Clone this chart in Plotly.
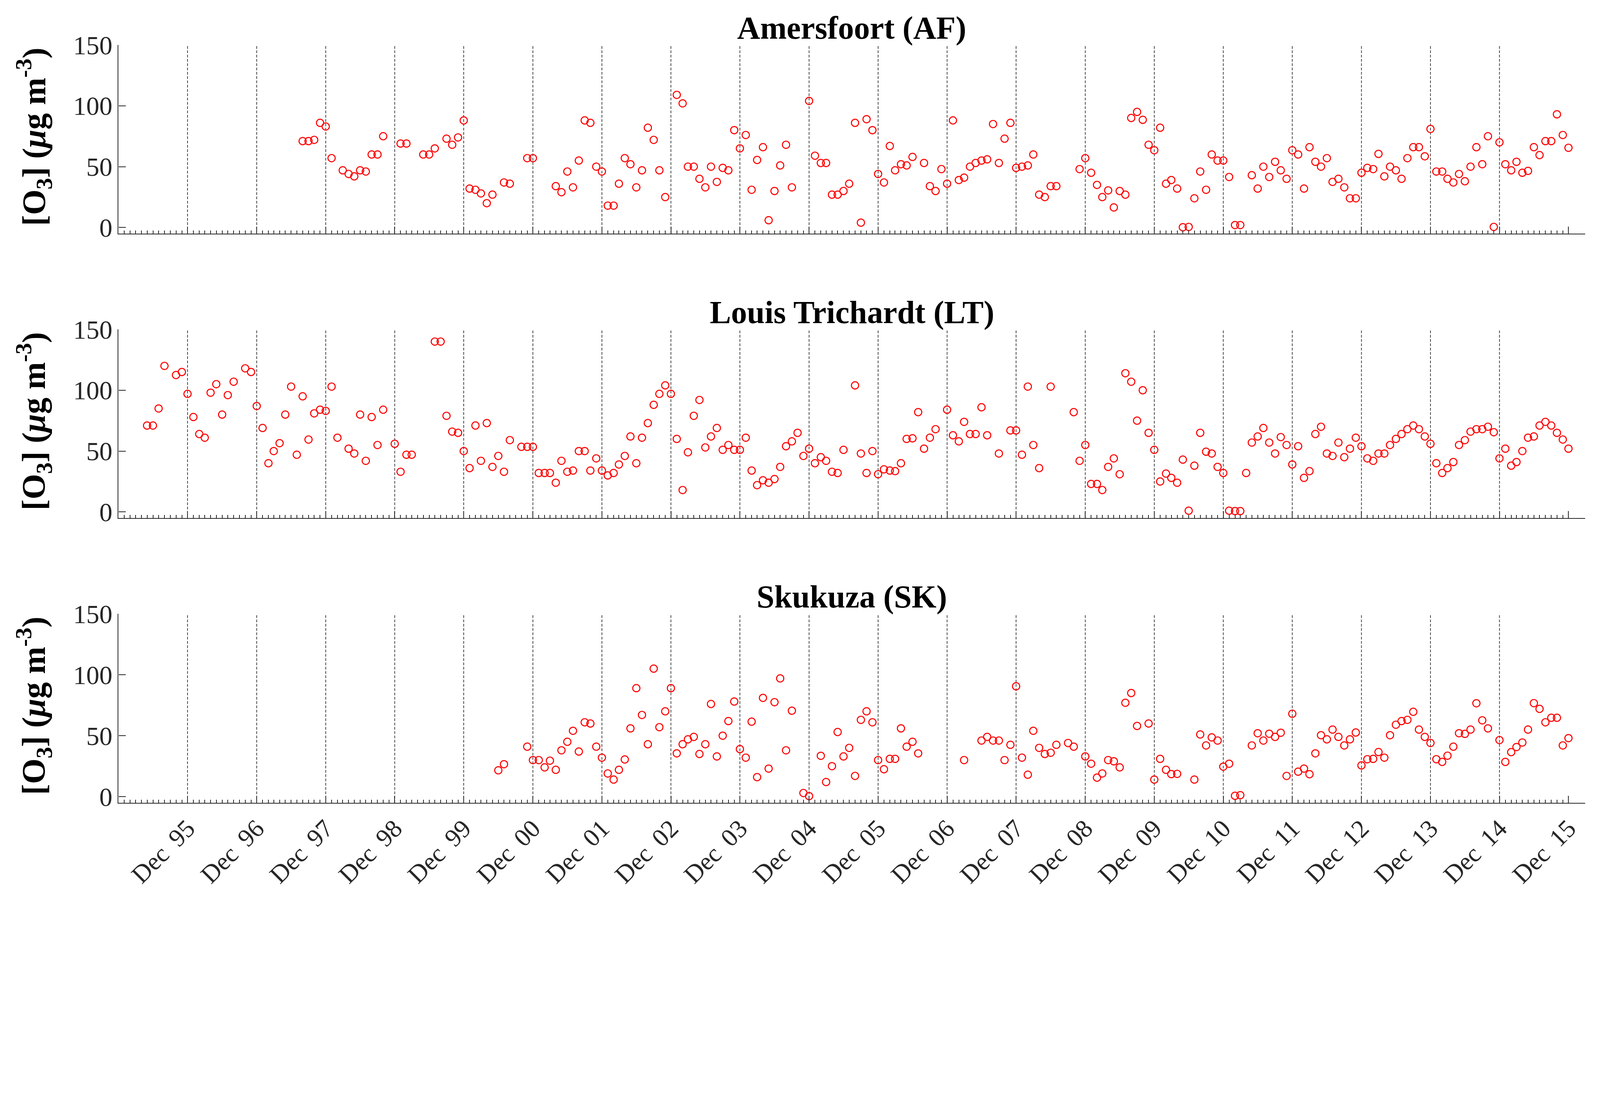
import pandas as pd
import plotly.graph_objects as go
from plotly.subplots import make_subplots

# Monthly mean surface O3 (ug m-3); None = month without data
stations = ["Amersfoort (AF)", "Louis Trichardt (LT)", "Skukuza (SK)"]

af_start = "1997-08-01"
af_o3 = [
    71, 71, 72, 86, 83,                                        # 1997 Aug-Dec
    57, None, 47, 44, 42, 47, 46, 60, 60, 75, None, None,      # 1998
    69, 69, None, None, 60, 60, 65, None, 73, 68, 74, 88,      # 1999
    32, 31, 28, 20, 27, None, 37, 36, None, None, 57, 57,      # 2000
    None, None, None, 34, 29, 46, 33, 55, 88, 86, 50, 46,      # 2001
    18, 18, 36, 57, 52, 33, 47, 82, 72, 47, 25, None,          # 2002
    109, 102, 50, 50, 40, 33, 50, 37.5, 49, 47, 80, 65,        # 2003
    76, 31, 55.5, 66, 6, 30, 51, 68, 33, None, None, 104,      # 2004
    59, 53, 53, 27, 27, 30, 36, 86, 4, 89, 80, 44,             # 2005
    37, 67, 47, 52, 51, 58, None, 53, 34, 30, 48, 36,          # 2006
    88, 39, 41, 50, 53, 55, 56, 85, 53, 73, 86, 49,            # 2007
    50, 51, 60, 27, 25, 34, 34, None, None, None, 48, 57,      # 2008
    45, 35, 25, 30.5, 16.5, 30, 27, 90, 95, 88.5, 68, 63.5,    # 2009
    82, 36, 39, 32, 0.2, 0.5, 24, 46, 31, 60, 55, 55,          # 2010
    41.5, 2, 2, None, 43, 32, 50, 41.5, 54, 47, 40, 63.5,      # 2011
    60, 32, 66, 54, 50, 57, 37.5, 40, 33, 24, 24, 45,          # 2012
    49, 48, 60.5, 42, 50, 47, 40, 57, 66, 66, 58.5, 81,        # 2013
    46, 46, 40, 37, 44, 38, 50, 66, 52, 75, 0.5, 70,           # 2014
    52, 47, 54, 45, 46.5, 66, 59.5, 71, 71, 93, 76, 65.5,      # 2015
]

lt_start = "1995-05-01"
lt_o3 = [
    71, 71, 85, 120, None, 112.5, 115, 97,                     # 1995 May-Dec
    78, 64, 61, 98, 105, 80, 96, 107, None, 118, 115, 87,      # 1996
    69, 40, 50, 56.5, 80, 103, 47, 95, 59.5, 81, 84, 83,       # 1997
    103, 61, None, 52, 48, 80, 42, 78, 55, 84, None, 56,       # 1998
    33, 47, 47, None, None, None, 140, 140, 79, 66, 65, 50,    # 1999
    36, 71, 42, 73, 37, 46, 33, 59, None, 53.5, 53.5, 53.5,    # 2000
    32, 32, 32, 24, 42, 33, 34, 50, 50, 34, 44, 34,            # 2001
    30, 32, 39, 46, 62, 40, 61, 73, 88, 97, 104, 97,           # 2002
    60, 18, 49, 79, 92, 53, 62, 69, 51, 55, 51, 51,            # 2003
    61, 34, 22, 26, 24, 27, 37, 54, 58, 65, 46, 52,            # 2004
    40, 45, 42, 33, 32, 51, None, 104, 48, 32, 50, 31,         # 2005
    35, 34, 33.5, 40, 60, 60.5, 82, 52, 61, 68, None, 84,      # 2006
    63, 58, 74, 64, 64, 86, 63, None, 48, None, 67, 67,        # 2007
    47, 103, 55, 36, None, 103, None, None, None, 82, 42, 55,  # 2008
    23, 23, 18, 37, 44, 31, 114, 107, 75, 100, 65, 51,         # 2009
    25, 31.5, 28, 24, 43, 1, 38, 65, 49.5, 48, 37, 32,         # 2010
    1, 0.7, 0.7, 32, 57, 62, 69, 57, 48, 61.5, 55, 39,         # 2011
    54, 28, 33.5, 64, 70, 48, 46, 57, 45, 52, 61, 54,          # 2012
    44, 42, 48, 48, 55, 60, 64, 68, 71, 68, 62, 56,            # 2013
    40, 32, 36, 41, 55, 59, 66, 68, 68, 70, 65.5, 44,          # 2014
    52, 38, 41, 50, 61, 62, 71, 74, 71, 65, 59.5, 52,          # 2015
]

sk_start = "2000-06-01"
sk_o3 = [
    21.6, 26.6, None, None, None, 41, 30,                      # 2000 Jun-Dec
    30, 24, 29.5, 22, 38, 45, 54, 37, 61, 60, 41, 32,          # 2001
    19, 14, 22, 30.5, 56, 89, 67, 43, 105, 57, 70, 89,         # 2002
    35.5, 43, 47, 49, 35, 43, 76, 33, 50, 62, 78, 39,          # 2003
    32, 61.5, 16, 81, 23, 77.5, 97, 38, 70.5, None, 3, 0.4,    # 2004
    None, 33.5, 12, 25, 53, 33, 40, 17, 63, 70, 61, 30,        # 2005
    22.5, 31, 31, 56, 41, 45, 35.5, None, None, None, None, None,  # 2006
    None, None, 30, None, None, 46, 49, 46, 46, 30, 42.5, 90.5,    # 2007
    32, 18, 54, 40, 35, 36, 42.5, None, 44, 41, None, 33,      # 2008
    27, 15.6, 19, 30, 29, 24, 77, 85, 58, None, 60, 14,        # 2009
    31, 22, 18.5, 18.7, None, None, 14, 51, 42, 48.6, 46, 24.6,    # 2010
    27, 0.7, 1.2, None, 42, 52, 46, 51.6, 49, 52.4, 17, 68,    # 2011
    20.5, 23, 18.4, 35.5, 50.4, 47, 55, 49, 42, 47, 52.6, 25.6,    # 2012
    30.7, 31, 36.6, 32, 50.4, 59, 62, 63, 69.6, 55, 49, 44,    # 2013
    30.7, 28.5, 33.6, 41, 52, 51.5, 55, 76.6, 62.6, 56, None, 46.4,  # 2014
    28.5, 36.5, 40.7, 44.4, 55, 76.7, 72, 61, 64.7, 64.7, 42, 48,    # 2015
]

series = [(af_start, af_o3), (lt_start, lt_o3), (sk_start, sk_o3)]

# axis ticks: a labelled tick every December, small ticks every other month
dec_years = list(range(1995, 2016))
dec_dates = [f"{y}-12-01" for y in dec_years]
dec_labels = [f"Dec\u00a0\u2009{y % 100:02d}" for y in dec_years]
month_dates = [d.strftime("%Y-%m-%d")
               for d in pd.date_range("1995-01-01", "2015-11-01", freq="MS")
               if d.month != 12]

# page is photographed at 5070 px for a 4096 css px wide viewport,
# and the body keeps its default 8px margin
D = 5070 / 4096
PAD = 8
W, H = 5070, 2854
Wc, Hc = W / D - PAD, H / D - PAD


def fx(px):
    return (px / D - PAD) / Wc


def fy(px):
    return 1 - (px / D - PAD) / Hc


x_left, x_right = 375.6, 5023.4
panels_px = [(142.4, 740.0), (1043.5, 1641.0), (1944.4, 2543.0)]  # top, bottom
title_gap = 54  # title centre sits this far above each panel's 150 tick

serif = "Liberation Serif"
ink = "#262626"

fig = make_subplots(rows=3, cols=1)

for i, (start, vals) in enumerate(series):
    row = i + 1
    x = pd.date_range(start, periods=len(vals), freq="MS")
    fig.add_trace(go.Scatter(
        x=x, y=vals, mode="markers", showlegend=False,
        marker=dict(symbol="circle-open", size=23 / D, color="#ff0000",
                    line=dict(width=3.3 / D, color="#ff0000")),
    ), row=row, col=1)

    for d in dec_dates[:-1]:
        fig.add_vline(x=d, row=row, col=1, layer="below",
                      line=dict(color="#333333", width=2.2 / D, dash="7px,4px"))

    top, bot = panels_px[i]
    fig.update_xaxes(
        domain=[fx(x_left), fx(x_right)],
        range=["1994-12-01", "2016-02-28"],
        tickmode="array", tickvals=dec_dates, ticktext=dec_labels,
        showticklabels=(row == 3), tickangle=-45,
        tickfont=dict(family=serif, size=80 / D, color=ink),
        ticks="inside", ticklen=22 / D, tickwidth=2.5 / D, tickcolor=ink,
        minor=dict(tickmode="array", tickvals=month_dates, ticks="inside",
                   ticklen=9 / D, tickwidth=2 / D, tickcolor=ink),
        showline=True, linecolor=ink, linewidth=3 / D, mirror=False,
        showgrid=False, zeroline=False, automargin=False,
        row=row, col=1,
    )
    fig.update_yaxes(
        domain=[fy(bot), fy(top)], range=[-5, 150],
        tickmode="array", tickvals=[0, 50, 100, 150],
        tickfont=dict(family=serif, size=83 / D, color=ink),
        ticks="inside", ticklen=23 / D, tickwidth=2.5 / D, tickcolor=ink,
        showline=True, linecolor=ink, linewidth=3 / D, mirror=False,
        showgrid=False, zeroline=False, automargin=False,
        row=row, col=1,
    )

    fig.add_annotation(
        text=f"<b>{stations[i]}</b>", xref="paper", yref="paper",
        x=(fx(x_left) + fx(x_right)) / 2, y=fy(top - title_gap),
        xanchor="center", yanchor="middle", showarrow=False,
        font=dict(family=serif, size=101 / D, color="black"),
    )
    fig.add_annotation(
        text="<b>[O<sub>3</sub>] (<i>\u03bc</i>g m<sup>-3</sup>)</b>",
        xref="paper", yref="paper",
        x=fx(108), y=fy((top + bot) / 2 - 8),
        xanchor="center", yanchor="middle", textangle=-90, showarrow=False,
        font=dict(family=serif, size=104 / D, color="black"),
    )

fig.update_layout(
    width=round(Wc), height=round(Hc), autosize=False,
    margin=dict(l=0, r=0, t=0, b=0),
    plot_bgcolor="white", paper_bgcolor="white",
    font=dict(family=serif, color=ink),
)

fig.write_html("out.html")
